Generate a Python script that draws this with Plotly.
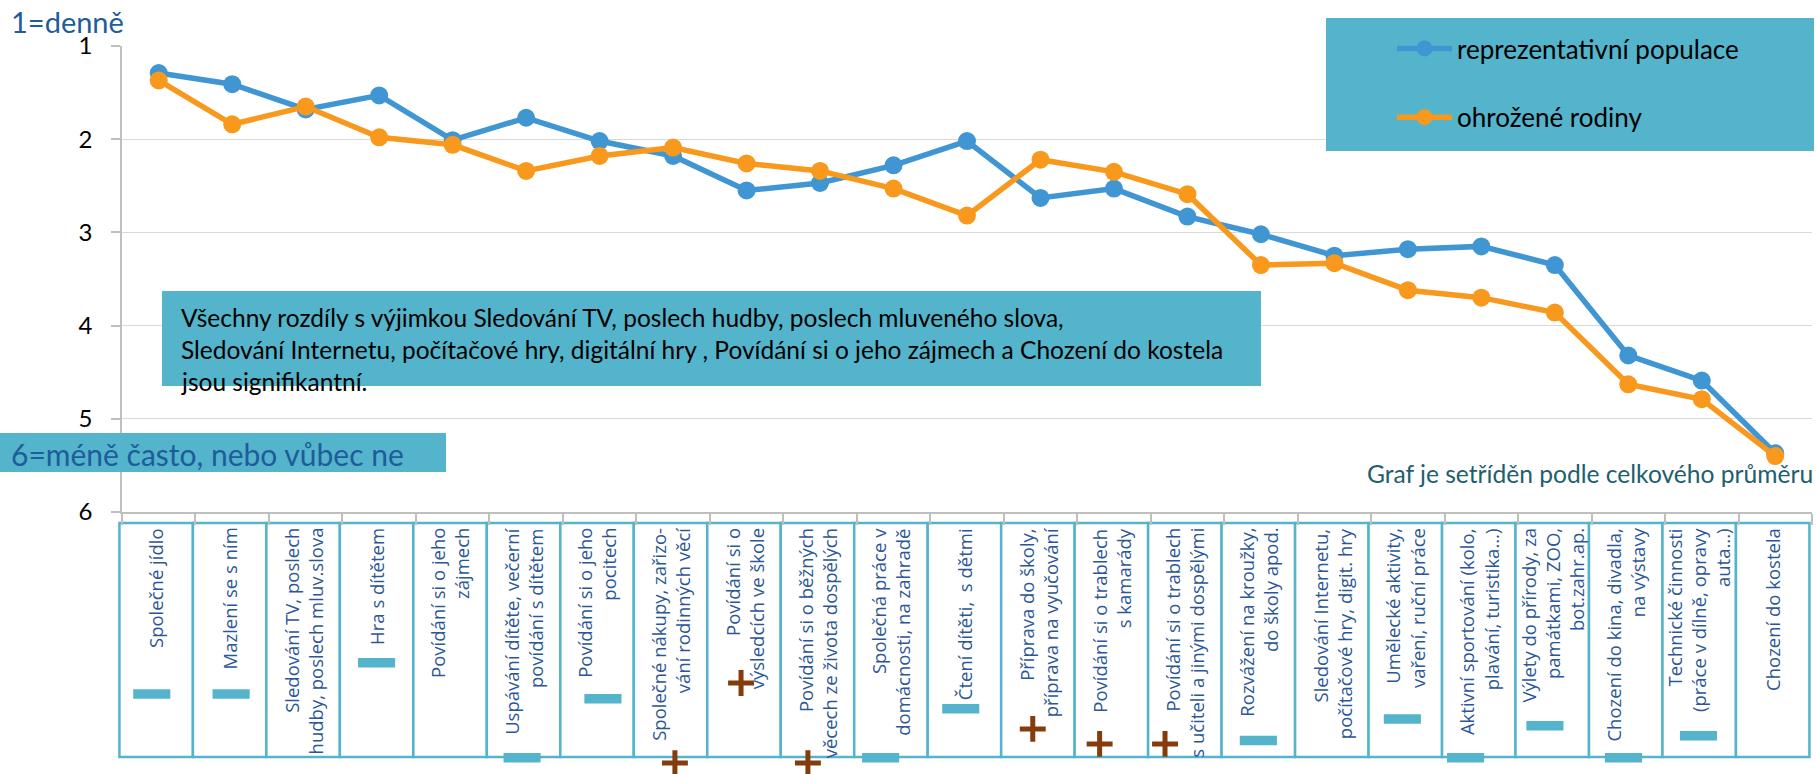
import plotly.graph_objects as go

# ---------------- data ----------------
categories = [
    "Společné jídlo",
    "Mazlení se s ním",
    "Sledování TV, poslech<br>hudby, poslech mluv.slova",
    "Hra s dítětem",
    "Povídání si o jeho<br>zájmech",
    "Uspávání dítěte, večerní<br>povídání s dítětem",
    "Povídání si o jeho<br>pocitech",
    "Společné nákupy, zařizo-<br>vání rodinných věcí",
    "Povídání si o<br>výsledcích ve škole",
    "Povídání si o běžných<br>věcech ze života dospělých",
    "Společná práce v<br>domácnosti, na zahradě",
    "Čtení dítěti,  s dětmi",
    "Příprava do školy,<br>příprava na vyučování",
    "Povídání si o trablech<br>s kamarády",
    "Povídání si o trablech<br>s učiteli a jinými dospělými",
    "Rozvážení na kroužky,<br>do školy apod.",
    "Sledování Internetu,<br>počítačové hry, digit. hry",
    "Umělecké aktivity,<br>vaření, ruční práce",
    "Aktivní sportování (kolo,<br>plavání, turistika...)",
    "Výlety do přírody, za<br>památkami, ZOO,<br>bot.zahr.ap.",
    "Chození do kina, divadla,<br>na výstavy",
    "Technické činnosti<br>(práce v dílně, opravy<br>auta...)",
    "Chození do kostela",
]

reprezentativni = [1.29, 1.41, 1.68, 1.53, 2.01, 1.77, 2.02, 2.18, 2.55, 2.47, 2.28, 2.02,
                   2.63, 2.53, 2.83, 3.02, 3.25, 3.18, 3.15, 3.35, 4.32, 4.59, 5.37]
ohrozene = [1.37, 1.84, 1.65, 1.98, 2.06, 2.34, 2.18, 2.09, 2.26, 2.34, 2.53, 2.82,
            2.22, 2.35, 2.59, 3.35, 3.33, 3.62, 3.70, 3.86, 4.63, 4.79, 5.40]

# significance of difference per category ("-", "+", or "" = not significant)
signif = ["-", "-", "", "-", "", "-", "-", "+", "+", "+", "-", "-",
          "+", "+", "+", "-", "", "-", "-", "-", "-", "-", ""]

y_ticks = [1, 2, 3, 4, 5, 6]

series_names = ["reprezentativní populace", "ohrožené rodiny"]

# ---------------- layout helpers (placement only) ----------------
W, H = 1816, 774
ML, MR = 122, 4
PLOT_TOP, PLOT_BOTTOM = 46, 512
BOX_TOP, BOX_BOTTOM = 523, 757


def xp(px):
    return (px - ML) / (W - ML - MR)


def yp(py):
    return 1 - py / H


# placement of significance marks inside label boxes (box-relative units)
sig_dy = [0.731, 0.731, 0, 0.597, 0, 1.003, 0.751, 1.026, 0.684, 1.026, 1.003, 0.794,
          0.880, 0.944, 0.944, 0.930, 0, 0.838, 1.003, 0.866, 1.003, 0.909, 0]
sig_dx = [-0.06, 0.02, 0, 0.0, 0, -0.02, 0.08, 0.06, -0.04, -0.13, -0.14, -0.05,
          -0.07, -0.16, -0.27, 0.0, 0, -0.04, -0.18, -0.10, -0.03, -0.01, 0]

BLUE = "#4096D2"
ORANGE = "#F8991D"
TEAL = "#53B4CB"
DARKBLUE = "#1F5C9B"
LABELBLUE = "#2B5797"
BROWN = "#843C0C"
GRID = "#D9D9D9"
AXIS = "#BFBFBF"
BOX_SHIFT = -0.035

n = len(categories)
xs = list(range(n))

fig = go.Figure()

for name, vals, col, grp in [(series_names[0], reprezentativni, BLUE, "a"),
                             (series_names[1], ohrozene, ORANGE, "b")]:
    fig.add_trace(go.Scatter(
        x=xs, y=vals, name=name, mode="lines+markers",
        line=dict(color=col, width=5.5), marker=dict(size=18, color=col),
        legendgroup=grp, xaxis="x", yaxis="y"))

# significance marks
for sym, col, size, lw in [("-", TEAL, 26.5, 9.5), ("+", BROWN, 18.5, 5)]:
    idx = [i for i in range(n) if signif[i] == sym]
    fig.add_trace(go.Scatter(
        x=[i + BOX_SHIFT + sig_dx[i] for i in idx],
        y=[sig_dy[i] for i in idx],
        mode="markers", showlegend=False, hoverinfo="skip",
        marker=dict(symbol="line-ew" if sym == "-" else "cross-thin",
                    size=size, color=col, line=dict(color=col, width=lw)),
        xaxis="x", yaxis="y2"))

shapes = []
xmin, xmax = -0.5, n - 0.5


def cat_paper(c):
    return (c - xmin) / (xmax - xmin)


for i in range(n):
    shapes.append(dict(type="rect", xref="paper", yref="y2",
                       x0=cat_paper(i - 0.5 + BOX_SHIFT), x1=cat_paper(i + 0.5 + BOX_SHIFT),
                       y0=0, y1=1, line=dict(color=TEAL, width=2.5),
                       fillcolor="white", layer="below"))

# teal boxes
shapes.append(dict(type="rect", xref="paper", yref="paper",
                   x0=xp(1326), x1=xp(1814), y0=yp(151), y1=yp(18),
                   line=dict(width=0), fillcolor=TEAL, layer="above"))
shapes.append(dict(type="rect", xref="paper", yref="paper",
                   x0=xp(162), x1=xp(1261), y0=yp(386), y1=yp(291),
                   line=dict(width=0), fillcolor=TEAL, layer="above"))
shapes.append(dict(type="rect", xref="paper", yref="paper",
                   x0=xp(0), x1=xp(446), y0=yp(472), y1=yp(433),
                   line=dict(width=0), fillcolor=TEAL, layer="above"))

annotations = []
for i, lab in enumerate(categories):
    annotations.append(dict(
        x=i + BOX_SHIFT, y=0.012, xref="x", yref="y2", text=lab, showarrow=False,
        textangle=-90, align="right", xanchor="center", yanchor="top",
        font=dict(family="Open Sans", size=18.5, color=LABELBLUE)))

annotations += [
    dict(x=xp(9), y=yp(21), xref="paper", yref="paper", text="1=denně",
         showarrow=False, xanchor="left", yanchor="middle",
         font=dict(family="Lato", size=29, color=DARKBLUE)),
    dict(x=xp(9), y=yp(454), xref="paper", yref="paper",
         text="6=méně často, nebo vůbec ne", showarrow=False,
         xanchor="left", yanchor="middle",
         font=dict(family="Lato", size=30, color=DARKBLUE)),
    dict(x=xp(1815), y=yp(473), xref="paper", yref="paper",
         text="Graf je setříděn podle celkového průměru", showarrow=False,
         xanchor="right", yanchor="middle",
         font=dict(family="Lato", size=24.6, color="#215E6E")),
]

note_lines = [
    "Všechny rozdíly s výjimkou Sledování TV, poslech hudby, poslech mluveného slova,",
    "Sledování Internetu, počítačové hry, digitální hry , Povídání si o jeho zájmech a Chození do kostela",
    "jsou signifikantní.",
]
for k, line in enumerate(note_lines):
    annotations.append(dict(
        x=xp(179), y=yp(317 + 32 * k), xref="paper", yref="paper", text=line,
        showarrow=False, xanchor="left", yanchor="middle",
        font=dict(family="Lato", size=24.5, color="black")))

fig.update_layout(
    width=W, height=H,
    margin=dict(l=ML, r=MR, t=0, b=0, autoexpand=False),
    paper_bgcolor="white", plot_bgcolor="white",
    showlegend=True,
    legend=dict(x=xp(1392), y=yp(25), xanchor="left", yanchor="top",
                bgcolor="rgba(0,0,0,0)", font=dict(family="Lato", size=26, color="black"),
                tracegroupgap=32, itemwidth=55),
    xaxis=dict(range=[xmin, xmax], tickvals=[i - 0.5 for i in range(n + 1)],
               showticklabels=False, ticks="outside", ticklen=11, tickwidth=1.5,
               tickcolor=AXIS, showline=True, linecolor=AXIS, linewidth=1.5,
               showgrid=False, zeroline=False, anchor="y", automargin=False),
    yaxis=dict(domain=[yp(PLOT_BOTTOM), yp(PLOT_TOP)], range=[6, 1],
               tickvals=y_ticks, ticks="outside", ticklen=9, tickwidth=1.5,
               tickcolor=AXIS, showline=True, linecolor=AXIS, linewidth=1.5,
               gridcolor=GRID, gridwidth=1.2, zeroline=False,
               ticklabelstandoff=14, automargin=False,
               tickfont=dict(family="Lato", size=24, color="black"), anchor="x"),
    yaxis2=dict(domain=[0, yp(PLOT_BOTTOM)],
                range=[(H - BOX_TOP) / (BOX_BOTTOM - BOX_TOP),
                       (PLOT_BOTTOM - BOX_TOP) / (BOX_BOTTOM - BOX_TOP)],
                visible=False, anchor="x", automargin=False),
    shapes=shapes, annotations=annotations,
)

# the page's default 8px body margin would push the fixed-size figure off the window
fig.write_html("out.html", config={"displayModeBar": False},
               post_script="document.body.style.margin='0';")
